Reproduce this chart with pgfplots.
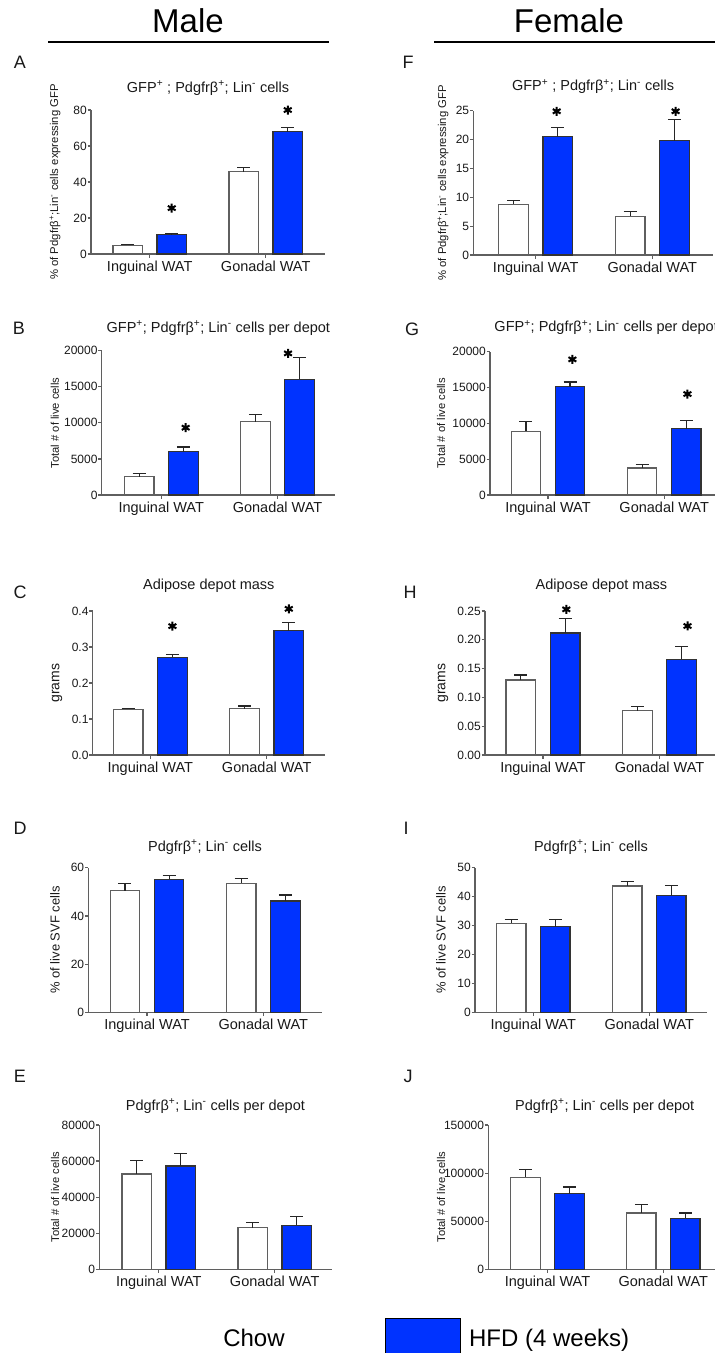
\documentclass[border=0pt]{standalone}
\usepackage{fontspec}
\setmainfont{Liberation Sans}
\usepackage{pgfplots}
\pgfplotsset{compat=1.18}
\definecolor{hfdblue}{RGB}{0,51,255}
\definecolor{axgray}{RGB}{95,95,95}
\definecolor{txt}{RGB}{25,25,25}
\newcommand{\fs}[1]{\fontsize{#1}{#1}\selectfont}
\pgfplotsset{
  panel/.style={
    scale only axis, anchor=south west,
    axis x line*=bottom, axis y line*=left,
    axis line style={draw=axgray, line width=1.2pt},
    tick align=outside, major tick length=3.5pt,
    tick style={draw=axgray, line width=1.2pt},
    ymin=0, xtick={1,2}, xticklabels={Inguinal WAT, Gonadal WAT},
    x tick label style={font=\fs{14.5}, text=txt},
    y tick label style={font=\fs{12}, text=txt, inner xsep=0.5pt},
    /pgf/number format/assume math mode=true,
    scaled y ticks=false,
    yticklabel style={/pgf/number format/fixed, /pgf/number format/1000 sep={}},
    title style={font=\fs{14.5}, text=txt, anchor=center},
    ylabel style={font=\fs{11.3}, text=txt, anchor=center},
    clip=false,
  },
  chow/.style={ybar, bar shift=0pt, bar width=0.254, fill=white, draw=axgray, line width=1.2pt,
    error bars/y dir=plus, error bars/y explicit, error bars/error mark=|,
    error bars/error bar style={draw=black!85, line width=1.2pt},
    error bars/error mark options={draw=black!85, line width=1.2pt, mark size=6.5pt}},
  hfd/.style={ybar, bar shift=0pt, bar width=0.254, fill=hfdblue, draw=black!80, line width=1.2pt,
    error bars/y dir=plus, error bars/y explicit, error bars/error mark=|,
    error bars/error bar style={draw=black!85, line width=1.2pt},
    error bars/error mark options={draw=black!85, line width=1.2pt, mark size=6.5pt}},
  star/.style={only marks, mark=asterisk, mark size=4.5pt, line width=2pt, black},
}
\begin{document}
\begin{tikzpicture}
\useasboundingbox (0,0) rectangle (715pt,-1353pt);
\clip (0,0) rectangle (715pt,-1353pt);
% headers
\node[font=\fs{33}] at (188pt,-21pt) {Male};
\node[font=\fs{33}] at (569pt,-21pt) {Female};
\draw[line width=2.5pt] (48pt,-42pt) -- (329pt,-42pt);
\draw[line width=2.5pt] (434pt,-42pt) -- (715pt,-42pt);
% panel letters
\begin{scope}[every node/.style={font=\fs{18}, text=txt}]
\node at (20pt,-62pt) {A};
\node at (408pt,-62pt) {F};
\node at (19pt,-328pt) {B};
\node at (412pt,-329pt) {G};
\node at (20pt,-592pt) {C};
\node at (410pt,-592pt) {H};
\node at (20pt,-828pt) {D};
\node at (406pt,-828pt) {I};
\node at (20pt,-1076pt) {E};
\node at (408pt,-1076pt) {J};
\end{scope}

% ---------- A ----------
\begin{axis}[panel, at={(91pt,-254pt)}, width=234pt, height=144pt,
  xmin=0.494, xmax=2.511, ymax=80, ytick={0,20,40,60,80},
  title={GFP\textsuperscript{+} ; Pdgfrβ\textsuperscript{+}; Lin\textsuperscript{-} cells},
  title style={at={(axis description cs:0.5,1.111)}},
  ylabel={\% of Pdgfrβ\textsuperscript{+};Lin\textsuperscript{-} cells expressing GFP},
  ylabel style={at={(axis description cs:-0.1538,0.5)}}]
\addplot[chow] coordinates {(0.81,4.8) +- (0,0.6) (1.81,45.8) +- (0,2.3)};
\addplot[hfd] coordinates {(1.19,10.7) +- (0,0.8) (2.19,68.0) +- (0,2.4)};
\addplot[star] coordinates {(1.19,25.5) (2.19,80.0)};
\end{axis}

% ---------- F ----------
\begin{axis}[panel, at={(473.3pt,-255pt)}, width=239.6pt, height=144.3pt,
  xmin=0.465, xmax=2.52, ymax=25, ytick={0,5,10,15,20,25},
  title={GFP\textsuperscript{+} ; Pdgfrβ\textsuperscript{+}; Lin\textsuperscript{-} cells},
  title style={at={(axis description cs:0.5,1.123)}},
  ylabel={\% of Pdgfrβ\textsuperscript{+};Lin\textsuperscript{-} cells expressing GFP},
  ylabel style={at={(axis description cs:-0.1265,0.5)}}]
\addplot[chow] coordinates {(0.81,8.78) +- (0,0.7) (1.81,6.7) +- (0,0.86)};
\addplot[hfd] coordinates {(1.19,20.5) +- (0,1.6) (2.19,19.8) +- (0,3.7)};
\addplot[star] coordinates {(1.18,24.9) (2.2,24.9)};
\end{axis}

% ---------- B ----------
\begin{axis}[panel, at={(101.7pt,-495pt)}, width=233.3pt, height=144.3pt,
  xmin=0.488, xmax=2.494, ymax=20000, ytick={0,5000,10000,15000,20000},
  title={GFP\textsuperscript{+}; Pdgfrβ\textsuperscript{+}; Lin\textsuperscript{-} cells per depot},
  title style={at={(axis description cs:0.5,1.116)}},
  ylabel={Total \# of live cells},
  ylabel style={font=\fs{11.2}, at={(axis description cs:-0.2002,0.5)}}]
\addplot[chow] coordinates {(0.81,2540) +- (0,416) (1.81,10162) +- (0,1016)};
\addplot[hfd] coordinates {(1.19,6005) +- (0,646) (2.19,16028) +- (0,3002)};
\addplot[star] coordinates {(1.21,9330) (2.09,19630)};
\end{axis}

% ---------- G ----------
\begin{axis}[panel, at={(490pt,-495pt)}, width=232.3pt, height=143.3pt,
  xmin=0.501, xmax=2.5, ymax=20000, ytick={0,5000,10000,15000,20000},
  title={GFP\textsuperscript{+}; Pdgfrβ\textsuperscript{+}; Lin\textsuperscript{-} cells per depot},
  title style={at={(axis description cs:0.5,1.124)}},
  ylabel={Total \# of live cells},
  ylabel style={font=\fs{11.2}, at={(axis description cs:-0.2109,0.5)}}]
\addplot[chow] coordinates {(0.81,8884) +- (0,1395) (1.81,3767) +- (0,512)};
\addplot[hfd] coordinates {(1.19,15116) +- (0,651) (2.19,9256) +- (0,1116)};
\addplot[star] coordinates {(1.21,18930) (2.2,14093)};
\end{axis}

% ---------- C ----------
\begin{axis}[panel, at={(92.7pt,-755pt)}, width=232.2pt, height=144pt,
  xmin=0.505, xmax=2.5, ymax=0.4, ytick={0,0.1,0.2,0.3,0.4},
  yticklabel style={/pgf/number format/fixed zerofill, /pgf/number format/precision=1},
  title={Adipose depot mass},
  title style={at={(axis description cs:0.5,1.132)}},
  ylabel={grams},
  ylabel style={font=\fs{14}, at={(axis description cs:-0.1537,0.5)}}]
\addplot[chow] coordinates {(0.81,0.1269) +- (0,0.0027) (1.81,0.1287) +- (0,0.0074)};
\addplot[hfd] coordinates {(1.19,0.2713) +- (0,0.0083) (2.19,0.3454) +- (0,0.0231)};
\addplot[star] coordinates {(1.19,0.358) (2.19,0.406)};
\end{axis}

% ---------- H ----------
\begin{axis}[panel, at={(485pt,-755pt)}, width=232.8pt, height=144pt,
  xmin=0.502, xmax=2.5, ymax=0.25, ytick={0,0.05,0.10,0.15,0.20,0.25},
  yticklabel style={/pgf/number format/fixed zerofill, /pgf/number format/precision=2},
  title={Adipose depot mass},
  title style={at={(axis description cs:0.5,1.132)}},
  ylabel={grams},
  ylabel style={font=\fs{14}, at={(axis description cs:-0.1804,0.5)}}]
\addplot[chow] coordinates {(0.81,0.1302) +- (0,0.0087) (1.81,0.077) +- (0,0.0069)};
\addplot[hfd] coordinates {(1.19,0.2118) +- (0,0.0249) (2.19,0.1661) +- (0,0.022)};
\addplot[star] coordinates {(1.2,0.2529) (2.24,0.2240)};
\end{axis}

% ---------- D ----------
\begin{axis}[panel, at={(88.3pt,-1012.3pt)}, width=233.4pt, height=144.6pt,
  xmin=0.495, xmax=2.502, ymax=60, ytick={0,20,40,60},
  title={Pdgfrβ\textsuperscript{+}; Lin\textsuperscript{-} cells},
  title style={at={(axis description cs:0.5,1.102)}},
  ylabel={\% of live SVF cells},
  ylabel style={font=\fs{13}, at={(axis description cs:-0.1427,0.5)}}]
\addplot[chow] coordinates {(0.81,50.5) +- (0,3.0) (1.81,53.5) +- (0,1.9)};
\addplot[hfd] coordinates {(1.19,55.2) +- (0,1.5) (2.19,46.2) +- (0,2.5)};
\end{axis}

% ---------- I ----------
\begin{axis}[panel, at={(475pt,-1012.3pt)}, width=231.8pt, height=144.6pt,
  xmin=0.498, xmax=2.496, ymax=50, ytick={0,10,20,30,40,50},
  title={Pdgfrβ\textsuperscript{+}; Lin\textsuperscript{-} cells},
  title style={at={(axis description cs:0.5,1.102)}},
  ylabel={\% of live SVF cells},
  ylabel style={font=\fs{13}, at={(axis description cs:-0.1467,0.5)}}]
\addplot[chow] coordinates {(0.81,30.8) +- (0,1.3) (1.81,43.7) +- (0,1.6)};
\addplot[hfd] coordinates {(1.19,29.6) +- (0,2.5) (2.19,40.3) +- (0,3.6)};
\end{axis}

% ---------- E ----------
\begin{axis}[panel, at={(99.3pt,-1269.3pt)}, width=232.2pt, height=144.3pt,
  xmin=0.487, xmax=2.49, ymax=80000, ytick={0,20000,40000,60000,80000},
  title={Pdgfrβ\textsuperscript{+}; Lin\textsuperscript{-} cells per depot},
  title style={at={(axis description cs:0.5,1.09)}},
  ylabel={Total \# of live cells},
  ylabel style={font=\fs{11.2}, at={(axis description cs:-0.1908,0.5)}},
  legend style={at={(rel axis cs:0,0)}, anchor=west, xshift=41pt, yshift=-68pt,
    draw=none, fill=none, inner sep=0pt, outer sep=0pt, font=\fs{24},
    nodes={inner sep=0pt}, legend columns=2,
    /tikz/every odd column/.append style={column sep=8pt},
    /tikz/every even column/.append style={column sep=100pt}},
  legend cell align=left]
\addplot[chow, forget plot] coordinates {(0.81,52840) +- (0,7390) (1.81,23090) +- (0,2770)};
\addplot[hfd, forget plot] coordinates {(1.19,57270) +- (0,6840) (2.19,24390) +- (0,4980)};
\addlegendimage{legend image code/.code={\path[draw=none, fill=none] (0pt,-17.7pt) rectangle (75pt,20.3pt);}}
\addlegendentry{Chow}
\addlegendimage{legend image code/.code={\draw[fill=hfdblue, draw=black, line width=1.5pt] (0pt,-17.7pt) rectangle (75pt,20.3pt);}}
\addlegendentry{HFD (4 weeks)}
\end{axis}

% ---------- J ----------
\begin{axis}[panel, at={(488.3pt,-1269.3pt)}, width=232.9pt, height=144.3pt,
  xmin=0.489, xmax=2.5, ymax=150000, ytick={0,50000,100000,150000},
  title={Pdgfrβ\textsuperscript{+}; Lin\textsuperscript{-} cells per depot},
  title style={at={(axis description cs:0.5,1.09)}},
  ylabel={Total \# of live cells},
  ylabel style={font=\fs{11.2}, at={(axis description cs:-0.2031,0.5)}}]
\addplot[chow] coordinates {(0.81,95600) +- (0,8000) (1.81,58540) +- (0,8660)};
\addplot[hfd] coordinates {(1.19,78640) +- (0,6930) (2.19,53000) +- (0,5540)};
\end{axis}
\end{tikzpicture}
\end{document}
